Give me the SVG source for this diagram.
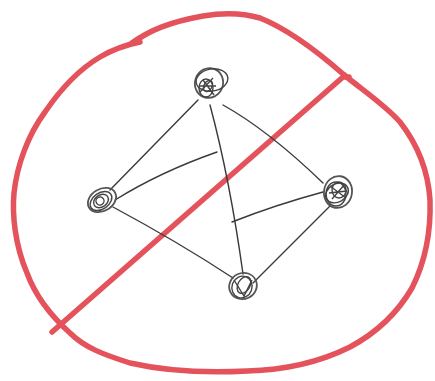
<svg xmlns="http://www.w3.org/2000/svg" width="435" height="381" viewBox="0 0 435 381">
<style>
.red{fill:none;stroke:#e4525c;stroke-width:5.5;stroke-linecap:round;stroke-linejoin:round}
.edge{fill:none;stroke:#3a3a3a;stroke-width:1.4;stroke-linecap:round}
.scr{fill:none;stroke:#555;stroke-width:1.8}
.scr2{fill:none;stroke:#444;stroke-width:1.4}
</style>
<rect width="435" height="381" fill="#fff"/>
<g id="prohibition">
<path class="red" d="M132,43 C150,30 170,22 203,16 C220,13 240,12 260,18 C285,28 310,45 343,74 C365,92 385,105 400,122 C418,145 428,170 430,200 C431,230 425,262 412,288 C398,312 378,332 350,347 C320,362 285,370 247,371 C210,373 170,372 130,363 C105,355 85,348 70,333 C50,315 35,295 27,273 C15,245 12,215 14,193 C17,165 28,135 45,112 C60,90 78,70 100,57 C112,50 125,45 140,42"/>
<path class="red" d="M132,43 L140,38"/>
<path class="red" d="M52,332 L343,77 L349,77"/>
</g>
<g id="connectors">
<path class="edge" d="M198,100 L110,190"/>
<path class="edge" d="M223,105 Q268,130 323,183"/>
<path class="edge" d="M210,105 Q230,180 243,274"/>
<path class="edge" d="M113,207 Q180,243 233,278"/>
<path class="edge" d="M330,206 L253,283"/>
<path class="edge" d="M115,200 Q160,172 217,152"/>
<path class="edge" d="M323,192 Q275,205 232,222"/>
</g>
<g id="node-top">
<ellipse class="scr" cx="209" cy="83" rx="14" ry="15" transform="rotate(20 209 83)"/>
<ellipse class="scr2" cx="212" cy="80" rx="16" ry="11" transform="rotate(-10 212 80)"/>
<ellipse class="scr2" cx="206" cy="88" rx="7" ry="9"/>
<ellipse class="scr2" cx="208" cy="86" rx="4" ry="6" transform="rotate(30 208 86)"/>
<path class="scr2" d="M200,92 L213,78 M203,80 L214,95 M199,86 L216,86"/>
</g>
<g id="node-left">
<ellipse class="scr" cx="102" cy="200" rx="15" ry="11" transform="rotate(-30 102 200)"/>
<ellipse class="scr2" cx="101" cy="201" rx="12" ry="8" transform="rotate(-35 101 201)"/>
<ellipse class="scr2" cx="101" cy="201" rx="8" ry="6" transform="rotate(-35 101 201)"/>
<ellipse class="scr2" cx="100" cy="201" rx="4" ry="4" transform="rotate(-35 100 201)"/>
</g>
<g id="node-right">
<ellipse class="scr" cx="338" cy="192" rx="14" ry="16" transform="rotate(10 338 192)"/>
<ellipse class="scr2" cx="336" cy="194" rx="10" ry="12"/>
<ellipse class="scr2" cx="339" cy="190" rx="7" ry="8"/>
<ellipse class="scr2" cx="337" cy="193" rx="12" ry="9" transform="rotate(-30 337 193)"/>
<path class="scr2" d="M330,186 L346,198 M332,199 L345,184 M329,193 L347,191"/>
</g>
<g id="node-bottom">
<ellipse class="scr" cx="243" cy="286" rx="14" ry="13" transform="rotate(-25 243 286)"/>
<ellipse class="scr2" cx="242" cy="287" rx="10" ry="11" transform="rotate(20 242 287)"/>
<ellipse class="scr2" cx="244" cy="285" rx="6" ry="9" transform="rotate(30 244 285)"/>
<path class="scr2" d="M234,280 L244,296 L252,280"/>
</g>
</svg>
